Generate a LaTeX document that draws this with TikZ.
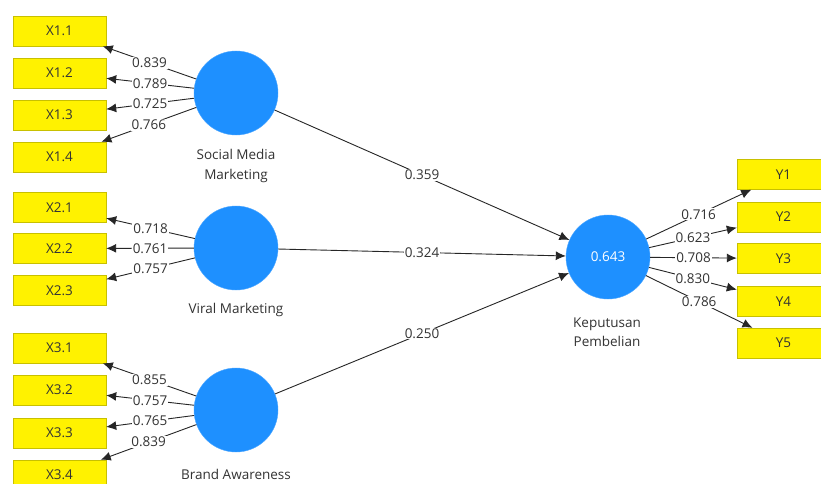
\documentclass[tikz,border=0pt]{standalone}
\usepackage{fontspec}
\setmainfont{Open Sans}
\usetikzlibrary{arrows.meta}
\definecolor{lvblue}{HTML}{1E90FF}
\definecolor{boxedge}{HTML}{C8C000}
\definecolor{txt}{HTML}{333333}
\begin{document}
\begin{tikzpicture}[x=1pt,y=-1pt,
 ind/.style={rectangle, draw=boxedge, fill=yellow, minimum width=93pt, minimum height=30pt, inner sep=0pt, font=\fontsize{13.5}{15}\selectfont, text=txt},
 lv/.style={circle, fill=lvblue, draw=lvblue!80, minimum size=84pt, inner sep=0pt, font=\fontsize{13.5}{15}\selectfont, text=white},
 lvlabel/.style={font=\fontsize{13.5}{19.5}\selectfont, text=txt, align=center},
 ld/.style={fill=white, inner sep=1pt, font=\fontsize{13.5}{15}\selectfont, text=txt},
 arr/.style={draw=black!85, line width=0.9pt, -{Latex[length=10pt,width=9pt]}}
]
\useasboundingbox (0,0) rectangle (821,484);
\fill[white] (0,0) rectangle (821,484);

% indicators X1
\node[ind] (x11) at (59.5,31) {X1.1};
\node[ind] (x12) at (59.5,73) {X1.2};
\node[ind] (x13) at (59.5,115) {X1.3};
\node[ind] (x14) at (59.5,157) {X1.4};
% indicators X2
\node[ind] (x21) at (59.5,207.5) {X2.1};
\node[ind] (x22) at (59.5,248.5) {X2.2};
\node[ind] (x23) at (59.5,290.5) {X2.3};
% indicators X3
\node[ind] (x31) at (59.5,348) {X3.1};
\node[ind] (x32) at (59.5,390) {X3.2};
\node[ind] (x33) at (59.5,433) {X3.3};
\node[ind] (x34) at (59.5,475) {X3.4};
% indicators Y
\node[ind] (y1) at (783.5,174.5) {Y1};
\node[ind] (y2) at (783.5,217) {Y2};
\node[ind] (y3) at (783.5,258.5) {Y3};
\node[ind] (y4) at (783.5,301.5) {Y4};
\node[ind] (y5) at (783.5,343) {Y5};

% latent variables
\node[lv] (smm) at (236,93) {};
\node[lv] (vm) at (236,248) {};
\node[lv] (ba) at (236,410) {};
\node[lv] (kp) at (608,257) {0.643};

\node[lvlabel] (smmlab) at (236,166) {Social Media\\Marketing};
\node[lvlabel] (vmlab) at (236,310) {Viral Marketing};
\node[lvlabel] (balab) at (236,474) {Brand Awareness};
\node[lvlabel] (kplab) at (607,332) {Keputusan\\Pembelian};

% outer loadings
\draw[arr] (smm) -- node[ld]{0.839} (x11);
\draw[arr] (smm) -- node[ld]{0.789} (x12);
\draw[arr] (smm) -- node[ld]{0.725} (x13);
\draw[arr] (smm) -- node[ld]{0.766} (x14);

\draw[arr] (vm) -- node[ld]{0.718} (x21);
\draw[arr] (vm) -- node[ld]{0.761} (x22);
\draw[arr] (vm) -- node[ld]{0.757} (x23);

\draw[arr] (ba) -- node[ld]{0.855} (x31);
\draw[arr] (ba) -- node[ld]{0.757} (x32);
\draw[arr] (ba) -- node[ld]{0.765} (x33);
\draw[arr] (ba) -- node[ld]{0.839} (x34);

\draw[arr] (kp) -- node[ld]{0.716} (y1);
\draw[arr] (kp) -- node[ld]{0.623} (y2);
\draw[arr] (kp) -- node[ld]{0.708} (y3);
\draw[arr] (kp) -- node[ld]{0.830} (y4);
\draw[arr] (kp) -- node[ld]{0.786} (y5);

% path coefficients
\draw[arr] (smm) -- node[ld]{0.359} (kp);
\draw[arr] (vm) -- node[ld]{0.324} (kp);
\draw[arr] (ba) -- node[ld]{0.250} (kp);
\end{tikzpicture}
\end{document}
